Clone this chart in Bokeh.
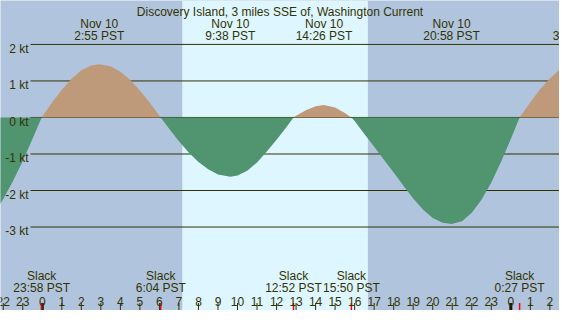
import numpy as np
from bokeh.plotting import figure
from bokeh.models import Range1d, BoxAnnotation
from bokeh.core.properties import value
from bokeh.embed import file_html
from bokeh.resources import INLINE

TITLE = "Discovery Island, 3 miles SSE of, Washington Current"

# Current speed: hours from Nov 10 00:00 PST -> knots (+ flood, - ebb)
hours = [-2.25, -2.0, -1.5, -1.0, -0.5, -0.033,
         0.5, 1.0, 1.5, 2.0, 2.5, 2.917, 3.5, 4.0, 4.5, 5.0, 5.5, 6.0, 6.067,
         6.5, 7.0, 7.5, 8.0, 8.5, 9.0, 9.633, 10.0, 10.5, 11.0, 11.5, 12.0, 12.5, 12.867,
         13.0, 13.5, 14.0, 14.433, 15.0, 15.5, 15.833,
         16.0, 16.5, 17.0, 17.5, 18.0, 18.5, 19.0, 19.5, 20.0, 20.5, 20.967,
         21.5, 22.0, 22.5, 23.0, 23.5, 24.0, 24.45,
         25.0, 25.5, 26.0, 26.5, 26.75]
knots = [-2.45, -2.23, -1.74, -1.19, -0.58, 0.0,
         0.41, 0.76, 1.06, 1.29, 1.42, 1.46, 1.40, 1.25, 1.03, 0.74, 0.41, 0.05, 0.0,
         -0.31, -0.65, -0.96, -1.22, -1.42, -1.56, -1.62, -1.59, -1.46, -1.23, -0.93, -0.61, -0.27, 0.0,
         0.05, 0.20, 0.31, 0.34, 0.27, 0.12, 0.0,
         -0.10, -0.45, -0.80, -1.16, -1.51, -1.87, -2.22, -2.52, -2.75, -2.88, -2.92,
         -2.84, -2.61, -2.25, -1.78, -1.21, -0.59, 0.0,
         0.42, 0.77, 1.07, 1.31, 1.40]

slack_hours = [-0.033, 6.067, 12.867, 15.833, 24.45]
slack_times = ["23:58 PST", "6:04 PST", "12:52 PST", "15:50 PST", "0:27 PST"]

extreme_hours = [2.917, 9.633, 14.433, 20.967, 27.43]
extreme_dates = ["Nov 10", "Nov 10", "Nov 10", "Nov 10", "Nov 11"]
extreme_times = ["2:55 PST", "9:38 PST", "14:26 PST", "20:58 PST", "3:26 PST"]

sunrise_hour = 7.17
sunset_hour = 16.68

grid_kt = [2, 1, 0, -1, -2, -3]
grid_labels = ["2 kt", "1 kt", "0 kt", "-1 kt", "-2 kt", "-3 kt"]

tick_hours = list(range(-2, 27))
tick_labels = [str(h % 24) for h in tick_hours]
midnight_hours = [0, 24]

# ---- layout / style ----
W, H = 559, 310
X_START, X_END = -2.141, 26.494
Y_START, Y_END = -5.286, 3.203
NIGHT = "#B0C4DE"
DAY = "#DEF6FF"
FLOOD = "#BF9A7A"
EBB = "#509470"
INK = "#333300"
FONT = value("Liberation Sans")
FS = "12px"

px_hr = W / (X_END - X_START)


def data_x(px):
    return X_START + px / W * (X_END - X_START)


def data_y(py):
    return Y_END - py / H * (Y_END - Y_START)


p = figure(width=W, height=H, x_range=Range1d(X_START, X_END), y_range=Range1d(Y_START, Y_END),
           output_backend="svg", toolbar_location=None, x_axis_type=None, y_axis_type=None,
           min_border=0, min_border_left=0, min_border_right=0, min_border_top=0, min_border_bottom=0,
           background_fill_color=NIGHT, border_fill_color=NIGHT, outline_line_color=None)
p.grid.visible = False

p.add_layout(BoxAnnotation(left=sunrise_hour, right=sunset_hour, fill_color=DAY, fill_alpha=1.0,
                           line_color=None, level="underlay"))

# grid lines (start right of the labels)
gx0 = data_x(30)
p.segment(x0=[gx0] * len(grid_kt), x1=[X_END] * len(grid_kt), y0=grid_kt, y1=grid_kt,
          line_color=INK, line_width=1)

kn = np.array(knots)
p.varea(x=hours, y1=np.zeros_like(kn), y2=np.maximum(kn, 0), fill_color=FLOOD)
p.varea(x=hours, y1=np.zeros_like(kn), y2=np.minimum(kn, 0), fill_color=EBB)

txt = dict(text_font=FONT, text_font_size=FS, text_color=INK, text_baseline="alphabetic")

# y labels
ppk = H / (Y_END - Y_START)
p.text(x=[data_x(28)] * len(grid_kt), y=[k - 4.4 / ppk for k in grid_kt], text=grid_labels,
       text_align="right", **txt)

# title
p.text(x=[(X_START + X_END) / 2], y=[data_y(11)], text=[TITLE], text_align="center", **txt)

# extreme labels (anchor kept inside the frame, shifted with an offset)
anch = [min(t, X_END - 0.05) for t in extreme_hours]
offs = [(t - a) * px_hr for t, a in zip(extreme_hours, anch)]
p.text(x=anch, y=[data_y(23.3)] * len(anch), text=extreme_dates, x_offset=offs, text_align="center", **txt)
p.text(x=anch, y=[data_y(35.7)] * len(anch), text=extreme_times, x_offset=offs, text_align="center", **txt)

# slack labels
p.text(x=slack_hours, y=[data_y(H - 34.7)] * len(slack_hours), text=["Slack"] * len(slack_hours),
       text_align="center", **txt)
p.text(x=slack_hours, y=[data_y(H - 22.3)] * len(slack_hours), text=slack_times,
       text_align="center", **txt)

# hour ticks and labels
tb, tt = data_y(H), data_y(H - 7.5)
p.segment(x0=tick_hours, x1=tick_hours, y0=[tb] * len(tick_hours), y1=[tt] * len(tick_hours),
          line_color=INK, line_width=1)
p.segment(x0=midnight_hours, x1=midnight_hours, y0=[tb] * 2, y1=[tt] * 2, line_color="#1a1a00", line_width=3)
p.segment(x0=slack_hours, x1=slack_hours, y0=[tb] * len(slack_hours), y1=[tt] * len(slack_hours),
          line_color="#FF0000", line_width=1.5)
p.text(x=tick_hours, y=[data_y(H - 9.3)] * len(tick_hours), text=tick_labels, text_align="center", **txt)

open("out.html", "w").write(file_html(p, INLINE))
